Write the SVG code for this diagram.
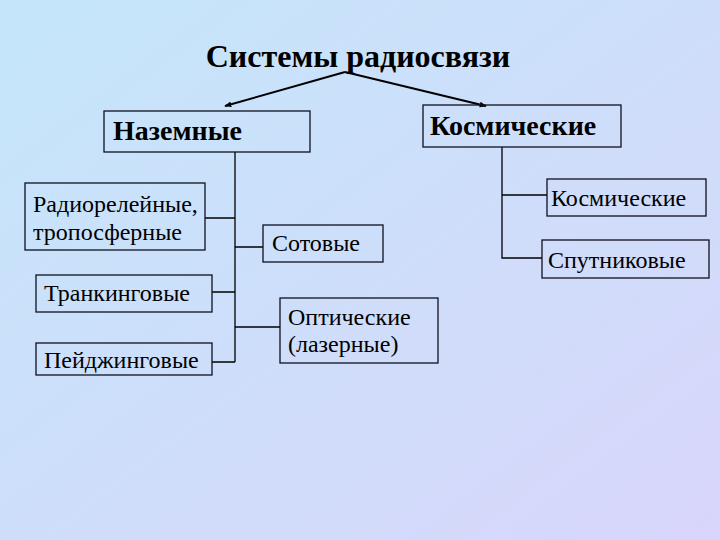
<svg xmlns="http://www.w3.org/2000/svg" width="720" height="540" viewBox="0 0 720 540">
<defs>
<linearGradient id="bg" x1="0" y1="0" x2="1" y2="1">
<stop offset="0" stop-color="#c4e6fa"/>
<stop offset="1" stop-color="#d8d6fa"/>
</linearGradient>
<marker id="ah" viewBox="0 0 10 10" refX="9" refY="5" markerWidth="7" markerHeight="7" orient="auto" markerUnits="userSpaceOnUse">
<path d="M0,1 L10,5 L0,9 Z" fill="#000"/>
</marker>
<style>
.box{fill:none;stroke:#101020;stroke-width:1.3}
.t{font-family:"Liberation Serif","Times New Roman",serif;font-size:24px;fill:#000}
.b{font-family:"Liberation Serif","Times New Roman",serif;font-weight:bold;fill:#000}
.c{fill:none;stroke:#000;stroke-width:1.3}
.a{fill:none;stroke:#000;stroke-width:2}
</style>
</defs>
<rect width="720" height="540" fill="url(#bg)"/>
<g id="title"><text class="b" x="358" y="67" font-size="32" text-anchor="middle">Системы радиосвязи</text></g>
<g id="connectors">
<line class="a" x1="345" y1="72" x2="225" y2="106" marker-end="url(#ah)"/>
<line class="a" x1="345" y1="72" x2="486" y2="106" marker-end="url(#ah)"/>
<path class="c" d="M235,152 V362 M205,218 H235 M235,247 H263 M212,292 H235 M235,327 H280 M212,362 H235"/>
<path class="c" d="M502,147 V258 H542 M502,195 H547"/>
</g>
<g id="nazemnye"><rect class="box" x="104" y="111" width="206" height="41"/><text class="b" x="113" y="140" font-size="28">Наземные</text></g>
<g id="kosmicheskie"><rect class="box" x="423" y="105" width="198" height="42"/><text class="b" x="430" y="135" font-size="28">Космические</text></g>
<g id="radiorelay"><rect class="box" x="25" y="183" width="180" height="67"/><text class="t" x="33" y="212">Радиорелейные,</text><text class="t" x="33" y="240">тропосферные</text></g>
<g id="sotovye"><rect class="box" x="263" y="225" width="120" height="37"/><text class="t" x="272" y="251">Сотовые</text></g>
<g id="trunk"><rect class="box" x="36" y="275" width="176" height="37"/><text class="t" x="44" y="301">Транкинговые</text></g>
<g id="paging"><rect class="box" x="36" y="343" width="176" height="32"/><text class="t" x="44" y="368">Пейджинговые</text></g>
<g id="optical"><rect class="box" x="280" y="298" width="158" height="65"/><text class="t" x="288" y="325">Оптические</text><text class="t" x="288" y="352">(лазерные)</text></g>
<g id="kosm2"><rect class="box" x="547" y="179" width="159" height="37"/><text class="t" x="551" y="206">Космические</text></g>
<g id="sputnik"><rect class="box" x="542" y="240" width="167" height="38"/><text class="t" x="548" y="268">Спутниковые</text></g>
</svg>
